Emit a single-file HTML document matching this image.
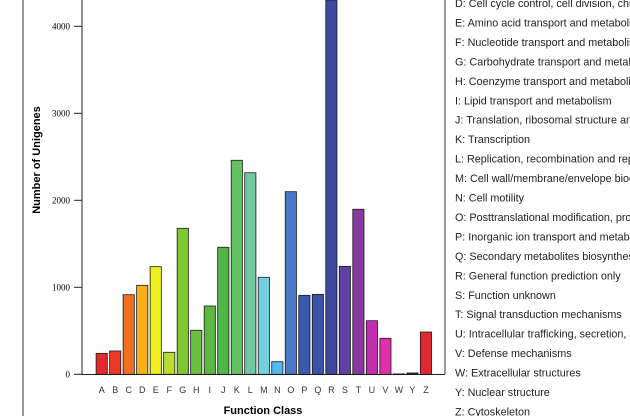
<!DOCTYPE html>
<html><head><meta charset="utf-8"><style>
body{margin:0;background:#fff;}
svg{display:block;}
</style></head><body>
<svg id="chart" width="630" height="416" viewBox="0 0 630 416" xmlns="http://www.w3.org/2000/svg">
<line x1="23" y1="0" x2="23" y2="416" stroke="#333" stroke-width="1"/>
<line x1="445" y1="0" x2="445" y2="374" stroke="#333" stroke-width="1"/>
<line x1="82" y1="0" x2="82" y2="374.5" stroke="#222" stroke-width="1"/>
<line x1="82" y1="374.5" x2="445" y2="374.5" stroke="#222" stroke-width="1"/>
<g id="yticks"></g>
<g id="bars"></g>
<g id="xlabels"></g>
<text transform="translate(40,160) rotate(-90)" text-anchor="middle" font-family="Liberation Sans, sans-serif" font-weight="bold" font-size="11">Number of Unigenes</text>
<text x="263" y="414" text-anchor="middle" font-family="Liberation Sans, sans-serif" font-weight="bold" font-size="11">Function Class</text>
<g id="legend" font-family="Liberation Sans, sans-serif" font-size="10.8" fill="#222"></g>
</svg>
<script>
const categories=["A","B","C","D","E","F","G","H","I","J","K","L","M","N","O","P","Q","R","S","T","U","V","W","Y","Z"];
const values=[241,268,915,1023,1237,253,1678,506,785,1460,2460,2317,1115,145,2099,908,919,4600,1241,1897,616,414,5,15,486];
const colors=["#e22a2a","#e83a28","#f07020","#f8b018","#eeee20","#b8dc30","#80c830","#6cc040","#5cb840","#50b848","#62c260","#70c8a0","#72d0e0","#52b8f0","#4a78c8","#3a5ab0","#3a52a8","#4048a0","#6040a0","#8838a0","#c030b0","#e030a8","#303030","#303030","#e02830"];
const yTicks=[0,1000,2000,3000,4000];
const legendLabels=["D: Cell cycle control, cell division, chromosome partitioning","E: Amino acid transport and metabolism","F: Nucleotide transport and metabolism","G: Carbohydrate transport and metabolism","H: Coenzyme transport and metabolism","I: Lipid transport and metabolism","J: Translation, ribosomal structure and biogenesis","K: Transcription","L: Replication, recombination and repair","M: Cell wall/membrane/envelope biogenesis","N: Cell motility","O: Posttranslational modification, protein turnover, chaperones","P: Inorganic ion transport and metabolism","Q: Secondary metabolites biosynthesis, transport and catabolism","R: General function prediction only","S: Function unknown","T: Signal transduction mechanisms","U: Intracellular trafficking, secretion, and vesicular transport","V: Defense mechanisms","W: Extracellular structures","Y: Nuclear structure","Z: Cytoskeleton"];
const NS="http://www.w3.org/2000/svg";
const y0=374.3, pxPer=0.087;
function yScale(v){return y0-v*pxPer;}
function xScale(i){return 101.7+i*13.51;}
const yt=document.getElementById('yticks');
yTicks.forEach(t=>{
  const l=document.createElementNS(NS,'line');
  
  
  l.setAttribute('x1',74);l.setAttribute('x2',82);
  l.setAttribute('y1',yScale(t));l.setAttribute('y2',yScale(t));
  l.setAttribute('stroke','#222');yt.appendChild(l);
  const tx=document.createElementNS(NS,'text');
  
  
  tx.setAttribute('x',70);tx.setAttribute('y',yScale(t)+3);
  tx.setAttribute('text-anchor','end');tx.setAttribute('font-family','Liberation Serif, serif');tx.setAttribute('font-size','9');
  tx.textContent=t;yt.appendChild(tx);
});
const bg=document.getElementById('bars'), xl=document.getElementById('xlabels');
categories.forEach((c,i)=>{
  const top=Math.max(yScale(values[i]),0);
  const r=document.createElementNS(NS,'rect');
  
  
  r.setAttribute('x',xScale(i)-5.6);r.setAttribute('width',11.2);
  r.setAttribute('y',top);r.setAttribute('height',Math.max(y0-top,0.5));
  r.setAttribute('fill',colors[i]);r.setAttribute('stroke','#1a1a1a');r.setAttribute('stroke-width','0.8');
  bg.appendChild(r);
  const t=document.createElementNS(NS,'text');
  
  
  t.setAttribute('x',xScale(i));t.setAttribute('y',393);t.setAttribute('text-anchor','middle');
  t.setAttribute('font-family','Liberation Sans, sans-serif');t.setAttribute('font-size','9');t.setAttribute('fill','#333');
  t.textContent=c;xl.appendChild(t);
});
const lg=document.getElementById('legend');
legendLabels.forEach((s,i)=>{
  const t=document.createElementNS(NS,'text');
  
  
  t.setAttribute('x',455);t.setAttribute('y',7+i*19.45);
  t.textContent=s;lg.appendChild(t);
});
</script>
</body></html>
